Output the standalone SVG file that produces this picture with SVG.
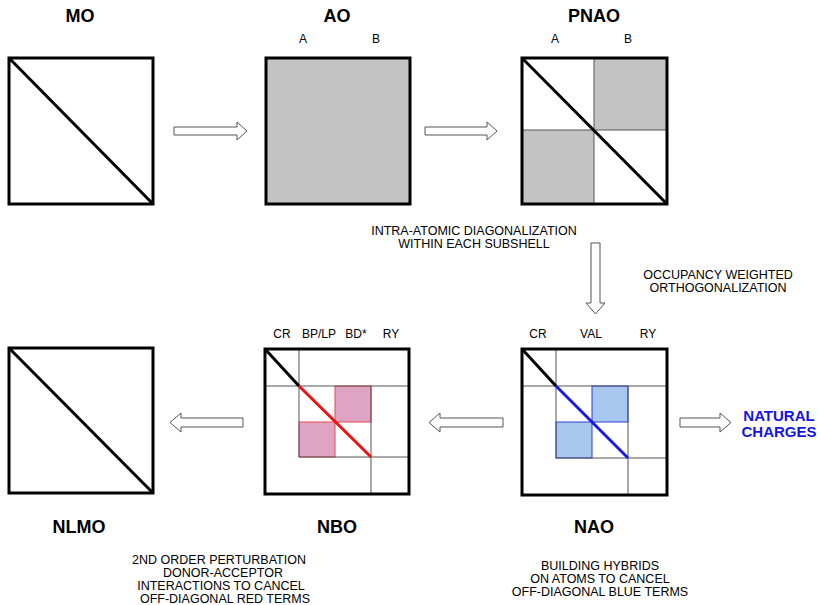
<svg xmlns="http://www.w3.org/2000/svg" width="821" height="605" viewBox="0 0 821 605">
<style>
text{font-family:"Liberation Sans",Arial,sans-serif;fill:#000}
.title{font-size:18px;font-weight:bold;text-anchor:middle}
.col{font-size:12px;text-anchor:middle}
.note{font-size:12.5px;text-anchor:middle}
.nc{font-size:15px;font-weight:bold;fill:#1414e6;text-anchor:middle}
.box{fill:none;stroke:#000;stroke-width:3}
.grid{stroke:#555;stroke-width:1;fill:none}
.diag{stroke:#000;stroke-width:3}
.gray{fill:#c3c3c3}
.pink{fill:#dfa4c3;stroke:#e8484c;stroke-width:1}
.blue{fill:#a7c7ee;stroke:#2d3fd6;stroke-width:1}
.arrow{fill:#fff;stroke:#555;stroke-width:1}
</style>
<rect width="821" height="605" fill="#fff"/>

<g id="MO">
<text class="title" x="80" y="22">MO</text>
<rect class="box" x="9" y="58" width="144" height="146"/>
<line class="diag" x1="9" y1="58" x2="153" y2="204"/>
</g>

<g id="AO">
<text class="title" x="337" y="22">AO</text>
<text class="col" x="303" y="43">A</text>
<text class="col" x="376" y="43">B</text>
<rect class="gray" x="266" y="58" width="144" height="146"/>
<rect class="box" x="266" y="58" width="144" height="146"/>
</g>

<g id="PNAO">
<text class="title" x="594" y="22">PNAO</text>
<text class="col" x="555" y="43">A</text>
<text class="col" x="628" y="43">B</text>
<rect class="gray" x="594" y="58" width="73" height="72"/>
<rect class="gray" x="522" y="130" width="72" height="74"/>
<line class="grid" x1="594" y1="58" x2="594" y2="204"/>
<line class="grid" x1="522" y1="130" x2="667" y2="130"/>
<rect class="box" x="522" y="58" width="145" height="146"/>
<line class="diag" x1="522" y1="58" x2="667" y2="204"/>
</g>

<g id="NAO">
<text class="title" x="594" y="533">NAO</text>
<text class="col" x="538" y="338">CR</text>
<text class="col" x="591" y="338">VAL</text>
<text class="col" x="648" y="338">RY</text>
<rect class="blue" x="592" y="386" width="36" height="36"/>
<rect class="blue" x="556" y="422" width="36" height="36"/>
<line class="grid" x1="556" y1="349" x2="556" y2="458"/>
<line class="grid" x1="522" y1="386" x2="667" y2="386"/>
<line class="grid" x1="628" y1="386" x2="628" y2="495"/>
<line class="grid" x1="556" y1="458" x2="667" y2="458"/>
<rect class="box" x="522" y="349" width="145" height="146"/>
<line class="diag" x1="522" y1="349" x2="556" y2="386"/>
<line x1="556" y1="386" x2="628" y2="458" stroke="#1a1adf" stroke-width="3"/>
</g>

<g id="NBO">
<text class="title" x="337" y="533">NBO</text>
<text class="col" x="282" y="338">CR</text>
<text class="col" x="319" y="338">BP/LP</text>
<text class="col" x="356" y="338">BD*</text>
<text class="col" x="391" y="338">RY</text>
<rect class="pink" x="335" y="386" width="36" height="36"/>
<rect class="pink" x="299" y="422" width="36" height="35"/>
<line class="grid" x1="299" y1="349" x2="299" y2="457"/>
<line class="grid" x1="265" y1="386" x2="409" y2="386"/>
<line class="grid" x1="371" y1="386" x2="371" y2="494"/>
<line class="grid" x1="299" y1="457" x2="409" y2="457"/>
<rect class="box" x="265" y="349" width="144" height="145"/>
<line class="diag" x1="265" y1="349" x2="299" y2="386"/>
<line x1="299" y1="386" x2="371" y2="457" stroke="#ee1111" stroke-width="3"/>
</g>

<g id="NLMO">
<text class="title" x="79" y="533">NLMO</text>
<rect class="box" x="9" y="348" width="144" height="145"/>
<line class="diag" x1="9" y1="348" x2="153" y2="493"/>
</g>

<g id="NATURAL_CHARGES">
<text class="nc" x="779" y="421">NATURAL</text>
<text class="nc" x="779" y="437">CHARGES</text>
</g>

<g id="connectors">
<polygon class="arrow" points="174,127 237,127 237,122 247,131 237,140 237,135 174,135"/>
<polygon class="arrow" points="425,127 487,127 487,122 497,131 487,140 487,135 425,135"/>
<polygon class="arrow" points="591,243 600,243 600,303 605,303 595.5,314 586,303 591,303"/>
<polygon class="arrow" points="243,418 181,418 181,413 170,422.5 181,432 181,427 243,427"/>
<polygon class="arrow" points="503,418 440,418 440,413 429,422.5 440,432 440,427 503,427"/>
<polygon class="arrow" points="680,418 720,418 720,413 731,422.5 720,432 720,427 680,427"/>
</g>

<g id="notes">
<text class="note" x="474" y="235">INTRA-ATOMIC DIAGONALIZATION</text>
<text class="note" x="474" y="248">WITHIN EACH SUBSHELL</text>
<text class="note" x="718" y="279">OCCUPANCY WEIGHTED</text>
<text class="note" x="718" y="292">ORTHOGONALIZATION</text>
<text class="note" x="219" y="564">2ND ORDER PERTURBATION</text>
<text class="note" x="223" y="577">DONOR-ACCEPTOR</text>
<text class="note" x="221" y="590">INTERACTIONS TO CANCEL</text>
<text class="note" x="225" y="603">OFF-DIAGONAL RED TERMS</text>
<text class="note" x="600" y="570">BUILDING HYBRIDS</text>
<text class="note" x="600" y="583">ON ATOMS TO CANCEL</text>
<text class="note" x="600" y="596">OFF-DIAGONAL BLUE TERMS</text>
</g>
</svg>
